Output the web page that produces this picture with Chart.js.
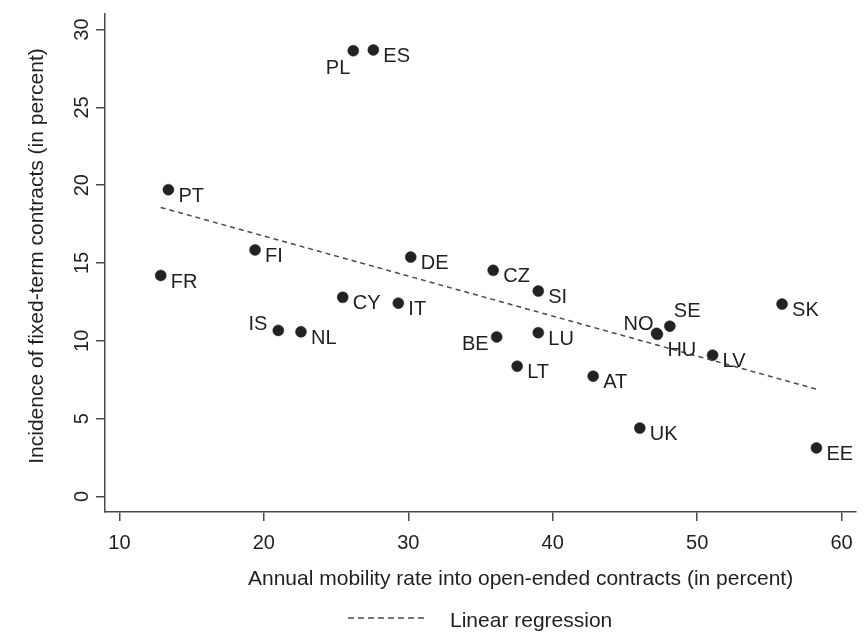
<!DOCTYPE html>
<html>
<head>
<meta charset="utf-8">
<script src="https://cdn.jsdelivr.net/npm/chart.js@4.4.1/dist/chart.umd.min.js"></script>
<style>
  html, body { margin: 0; padding: 0; background: #fff; }
  canvas { display: block; }
</style>
</head>
<body>
<canvas id="chart" width="864" height="632"></canvas>
<script>
// Country codes and the two measures (percent)
const countries = ['PT','FR','FI','IS','NL','CY','PL','ES','IT','DE','CZ','BE','LT','SI','LU','AT','UK','NO','HU','SE','LV','SK','EE'];
const mobility  = [13.39,12.86,19.39,21.00,22.57,25.46,26.19,27.58,29.31,30.17,35.88,36.12,37.54,39.00,39.00,42.80,46.03,47.19,47.25,48.11,51.07,55.88,58.26];
const fixedTerm = [19.71,14.20,15.84,10.67,10.58,12.80,28.64,28.69,12.42,15.38,14.53,10.25,8.37,13.20,10.52,7.73,4.39,10.48,10.42,10.94,9.08,12.36,3.12];

const xTicks = [10, 20, 30, 40, 50, 60];
const yTicks = [0, 5, 10, 15, 20, 25, 30];

const xTitle = 'Annual mobility rate into open-ended contracts (in percent)';
const yTitle = 'Incidence of fixed-term contracts (in percent)';
const legendLabel = 'Linear regression';

// Ordinary least squares fit of fixedTerm on mobility
function ols(xs, ys) {
  const n = xs.length;
  const mx = xs.reduce((s, v) => s + v, 0) / n;
  const my = ys.reduce((s, v) => s + v, 0) / n;
  let sxy = 0, sxx = 0;
  for (let i = 0; i < n; i++) {
    sxy += (xs[i] - mx) * (ys[i] - my);
    sxx += (xs[i] - mx) * (xs[i] - mx);
  }
  const b = sxy / sxx;
  return { a: my - b * mx, b };
}
const fit = ols(mobility, fixedTerm);
const xLo = Math.min(...mobility), xHi = Math.max(...mobility);
const fitLine = [xLo, xHi].map(x => ({ x, y: fit.a + fit.b * x }));

// Marker-label placement as clock positions (3 o'clock unless listed);
// dy is the offset of the capital-letter centre from the marker centre
const labelClock = { PL: 7, IS: 10, BE: 9, NO: 11, HU: 4, SE: 1 };
const clockOffsets = {
  3:  { dx: 10,  dy: 5,   align: 'left'  },
  4:  { dx: 10,  dy: 15,  align: 'left'  },
  1:  { dx: 4,   dy: -16, align: 'left'  },
  9:  { dx: -8,  dy: 6,   align: 'right' },
  10: { dx: -11, dy: -8,  align: 'right' },
  11: { dx: -3,  dy: -11, align: 'right' },
  7:  { dx: -3,  dy: 16,  align: 'right' }
};

const FONT = '"Liberation Sans", Arial, Helvetica, sans-serif';
const INK = '#1f1f1f';
const AXIS = '#4a4a4a';
const LABEL_SIZE = 20;
const CAP_HALF = 0.358 * LABEL_SIZE;

const pointLabels = {
  id: 'pointLabels',
  afterDatasetsDraw(chart) {
    const meta = chart.getDatasetMeta(1);
    const ctx = chart.ctx;
    ctx.save();
    ctx.font = LABEL_SIZE + 'px ' + FONT;
    ctx.fillStyle = INK;
    ctx.textBaseline = 'alphabetic';
    meta.data.forEach((pt, i) => {
      const code = countries[i];
      const o = clockOffsets[labelClock[code] || 3];
      ctx.textAlign = o.align;
      ctx.fillText(code, pt.x + o.dx, pt.y + o.dy + CAP_HALF);
    });
    ctx.restore();
  }
};

// Axis titles and the regression key below the plot region
const titlesAndKey = {
  id: 'titlesAndKey',
  afterDraw(chart) {
    const { ctx, chartArea: ca } = chart;
    ctx.save();
    ctx.font = '21px ' + FONT;
    ctx.fillStyle = INK;
    ctx.textBaseline = 'alphabetic';

    // x title
    ctx.textAlign = 'left';
    ctx.fillText(xTitle, ca.left + 143, ca.bottom + 73);

    // y title, rotated
    ctx.save();
    ctx.translate(ca.left - 62, (ca.top + ca.bottom) / 2 - 7);
    ctx.rotate(-Math.PI / 2);
    ctx.textAlign = 'center';
    ctx.fillText(yTitle, 0, 0);
    ctx.restore();

    // key: dashed sample line + label
    const keyY = ca.bottom + 106;
    const keyX = ca.left + 243;
    ctx.strokeStyle = AXIS;
    ctx.lineWidth = 1.5;
    ctx.setLineDash([6, 4]);
    ctx.beginPath();
    ctx.moveTo(keyX, keyY);
    ctx.lineTo(keyX + 79, keyY);
    ctx.stroke();
    ctx.setLineDash([]);
    ctx.textAlign = 'left';
    ctx.fillText(legendLabel, keyX + 102, keyY + 9);
    ctx.restore();
  }
};

const axisGrid = { display: true, drawOnChartArea: false, drawTicks: true, tickLength: 9, tickWidth: 1.5, tickColor: AXIS, color: AXIS, lineWidth: 1.5 };
const axisBorder = { display: true, color: AXIS, width: 1.5 };

new Chart(document.getElementById('chart'), {
  type: 'scatter',
  data: {
    datasets: [
      {
        label: legendLabel,
        data: fitLine,
        showLine: true,
        borderColor: AXIS,
        borderWidth: 1.5,
        borderDash: [5, 4],
        pointRadius: 0,
        pointHoverRadius: 0,
        fill: false
      },
      {
        label: 'Countries',
        data: mobility.map((x, i) => ({ x, y: fixedTerm[i] })),
        pointRadius: 5.5,
        pointHoverRadius: 5.5,
        backgroundColor: '#222',
        borderColor: '#222',
        borderWidth: 0.5
      }
    ]
  },
  options: {
    responsive: false,
    animation: false,
    events: [],
    layout: { padding: { top: 7, right: 8, left: 0, bottom: 0 } },
    plugins: { legend: { display: false }, tooltip: { enabled: false } },
    scales: {
      x: {
        type: 'linear',
        min: 9,
        max: 61,
        afterBuildTicks: s => { s.ticks = xTicks.map(v => ({ value: v })); },
        afterFit: s => { s.height = 120; },
        grid: axisGrid,
        border: axisBorder,
        ticks: { font: { family: FONT, size: 20 }, color: INK, padding: 10, maxRotation: 0, minRotation: 0 }
      },
      y: {
        type: 'linear',
        min: -1,
        max: 31,
        afterBuildTicks: s => { s.ticks = yTicks.map(v => ({ value: v })); },
        afterFit: s => { s.width = 105; },
        grid: axisGrid,
        border: axisBorder,
        ticks: { font: { family: FONT, size: 20 }, color: INK, padding: 2, minRotation: 90, maxRotation: 90, crossAlign: 'center' }
      }
    }
  },
  plugins: [pointLabels, titlesAndKey]
});
</script>
</body>
</html>
